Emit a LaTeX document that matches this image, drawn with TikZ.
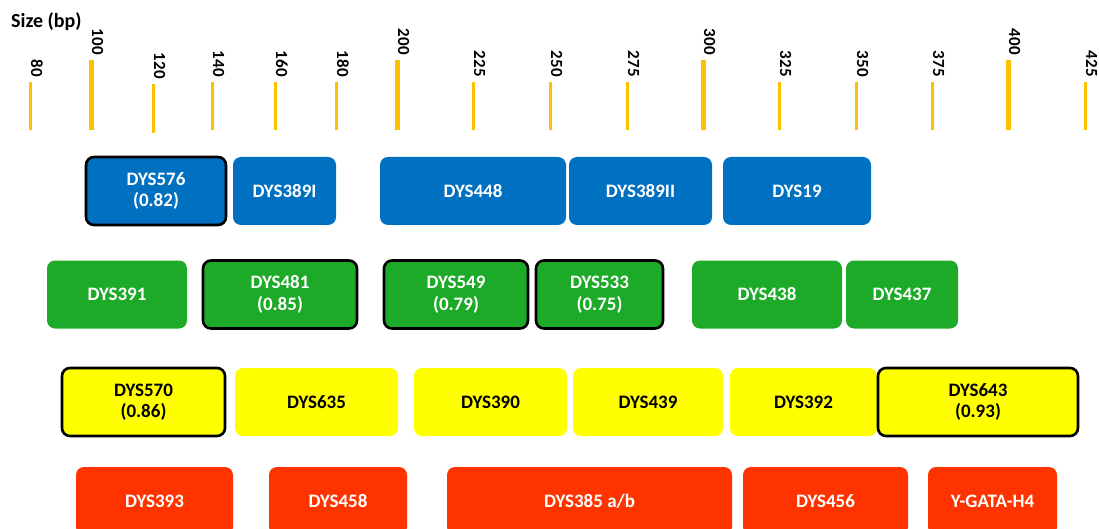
\documentclass[tikz,border=0pt]{standalone}
\usepackage{fontspec}
\setmainfont{Carlito}
\definecolor{tickgold}{RGB}{255,192,0}
\definecolor{strblue}{RGB}{0,112,192}
\definecolor{strgreen}{RGB}{28,170,40}
\definecolor{stryellow}{RGB}{255,255,0}
\definecolor{strred}{RGB}{255,51,0}
\tikzset{
  scaletick/.style={draw=tickgold, line width=3pt},
  majortick/.style={draw=tickgold, line width=5pt},
  ticklabel/.style={font=\bfseries\fontsize{17}{17}\selectfont, rotate=-90,
    anchor=base east, inner sep=0pt},
  locus/.style={rounded corners=8pt, align=center, inner sep=0pt,
    font=\bfseries\fontsize{19}{21.5}\selectfont, minimum height=68pt},
  kitA/.style={locus, fill=strblue, text=white},
  kitB/.style={locus, fill=strgreen, text=white},
  kitC/.style={locus, fill=stryellow, text=black},
  kitD/.style={locus, fill=strred, text=white},
  stable/.style={draw=black, line width=2.6pt},
}
\begin{document}
\begin{tikzpicture}[x=1pt, y=-1pt]
\useasboundingbox (0,0) rectangle (1099,529);
\clip (0,0) rectangle (1099,529);

% size scale
\node[font=\bfseries\fontsize{20}{20}\selectfont, anchor=west, inner sep=0pt] (title) at (11,22) {Size (bp)};
\foreach \v/\x/\ya/\yb in {80/30/82/130, 120/153/84/133, 140/212/82/130, 160/275/82/130,
    180/336/82/130, 225/473/82/130, 250/550/82/130, 275/627/82/130, 325/779/82/130,
    350/856/82/130, 375/932/82/130, 425/1085/82/130}{
  \draw[scaletick] (\x,\ya) -- (\x,\yb);
  \node[ticklabel] (lab\v) at (\x+1,\ya-5) {\v};
}
\foreach \v/\x in {100/91, 200/397, 300/703, 400/1008}{
  \draw[majortick] (\x,60) -- (\x,130);
  \node[ticklabel] (lab\v) at (\x+1,55) {\v};
}

% first row of loci
\node[kitA, stable, minimum width=140pt] (dys576) at (156,191) {DYS576\\(0.82)};
\node[kitA, minimum width=103pt] (dys389i) at (284.5,191) {DYS389I};
\node[kitA, minimum width=186pt] (dys448) at (473,191) {DYS448};
\node[kitA, minimum width=143pt] (dys389ii) at (640.5,191) {DYS389II};
\node[kitA, minimum width=148pt] (dys19) at (797,191) {DYS19};

% second row
\node[kitB, minimum width=140pt] (dys391) at (117,294.5) {DYS391};
\node[kitB, stable, minimum width=154pt] (dys481) at (280,294.5) {DYS481\\(0.85)};
\node[kitB, stable, minimum width=144pt] (dys549) at (456,294.5) {DYS549\\(0.79)};
\node[kitB, stable, minimum width=127pt] (dys533) at (599.5,294.5) {DYS533\\(0.75)};
\node[kitB, minimum width=150pt] (dys438) at (767,294.5) {DYS438};
\node[kitB, minimum width=112pt] (dys437) at (902,294.5) {DYS437};

% third row
\node[kitC, stable, minimum width=163pt] (dys570) at (143.5,402) {DYS570\\(0.86)};
\node[kitC, minimum width=163pt] (dys635) at (316.5,402) {DYS635};
\node[kitC, minimum width=153pt] (dys390) at (490.5,402) {DYS390};
\node[kitC, minimum width=150pt] (dys439) at (648,402) {DYS439};
\node[kitC, minimum width=147pt] (dys392) at (803.5,402) {DYS392};
\node[kitC, stable, minimum width=200pt] (dys643) at (978,402) {DYS643\\(0.93)};

% fourth row
\node[kitD, minimum width=157pt] (dys393) at (154.5,501) {DYS393};
\node[kitD, minimum width=138pt] (dys458) at (338,501) {DYS458};
\node[kitD, minimum width=285pt] (dys385) at (589.5,501) {DYS385 a/b};
\node[kitD, minimum width=165pt] (dys456) at (825.5,501) {DYS456};
\node[kitD, minimum width=129pt] (ygatah4) at (992.5,501) {Y-GATA-H4};
\end{tikzpicture}
\end{document}
